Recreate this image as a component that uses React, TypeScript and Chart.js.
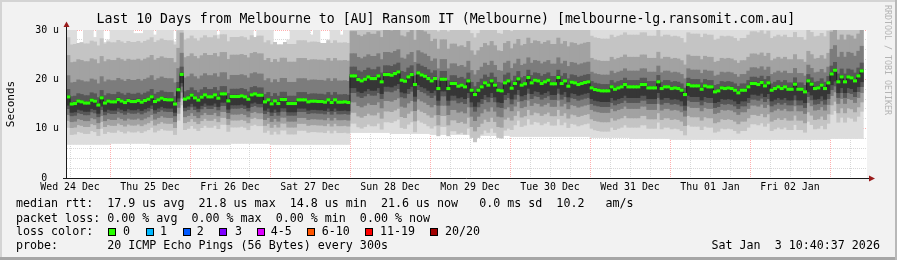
import React, { useEffect, useRef } from "react";
import { Chart, registerables } from "chart.js";

Chart.register(...registerables);

// ---- time axis (hours since Wed 24 Dec 00:00) ----
const AXIS_START_HOUR = 11.1;
const AXIS_END_HOUR = 251.1;
const FIRST_COLUMN_HOUR = 11;

const DAY_LABELS = [
  "Wed 24 Dec", "Thu 25 Dec", "Fri 26 Dec", "Sat 27 Dec", "Sun 28 Dec",
  "Mon 29 Dec", "Tue 30 Dec", "Wed 31 Dec", "Thu 01 Jan", "Fri 02 Jan",
];

const Y_GRID = [0, 2, 4, 6, 8, 10, 12, 14, 16, 18, 20, 22, 24, 26, 28, 30];
const Y_LABEL_VALUES = [0, 10, 20, 30];
const Y_LABELS = ["0  ", "10 u", "20 u", "30 u"];

// ---- hourly median rtt (us) ----
const MEDIAN_RTT = [
  16.45, 15.0, 15.1, 15.6, 15.44, 15.2, 15.2, 15.78, 15.58, 14.8,
  16.25, 15.2, 15.6, 15.44, 15.44, 15.9, 15.6, 15.3, 15.7, 15.5,
  15.5, 15.71, 15.38, 15.71, 15.98, 16.46, 15.51, 15.85, 16.19, 15.91,
  15.85, 15.85, 15.0, 17.9, 21.0, 16.0, 16.25, 16.8, 16.25, 15.8,
  16.4, 16.86, 16.46, 16.46, 16.86, 16.19, 17.06, 17.06, 15.64, 16.52,
  16.52, 16.52, 16.66, 16.46, 15.98, 16.86, 17.06, 16.79, 16.79, 15.44,
  15.85, 15.04, 15.64, 15.1, 15.91, 15.9, 15.1, 15.1, 15.1, 15.85,
  15.85, 15.85, 15.44, 15.58, 15.58, 15.51, 15.51, 15.38, 15.85, 15.31,
  15.85, 15.38, 15.38, 15.44, 15.31,
  20.7, 20.7, 19.96, 19.69, 20.03,
  20.5, 20.16, 20.16, 20.7, 19.5, 20.97, 20.97, 20.84, 21.17, 21.51,
  19.83, 19.63, 20.5, 20.97, 18.95, 21.31, 20.9, 20.64, 20.16, 19.69,
  20.16, 18.14, 20.03, 20.03, 18.14, 19.16, 19.16, 18.62, 18.83, 18.48,
  19.69, 17.8, 16.92, 17.8, 18.48, 19.29, 18.83, 19.69, 18.83, 17.8,
  17.67, 19.29, 19.69, 18.21, 19.16, 20.1, 18.83, 19.1, 20.37, 19.29,
  19.83, 19.69, 19.16, 19.5, 19.83, 19.1, 19.1, 20.37, 19.16, 19.69,
  18.62, 19.43, 19.29, 18.95, 19.16, 19.36, 19.5, 18.27, 17.94, 17.8,
  17.67, 17.67, 17.67, 18.48, 18.0, 18.27, 18.48, 18.95, 18.48, 18.48,
  18.48, 18.48,
  18.95, 18.95, 18.27, 18.27, 18.27, 19.5, 18.14, 18.48,
  18.48, 18.14, 18.27, 18.14, 17.8, 16.92, 18.95, 18.68, 18.68, 18.68,
  18.0, 18.68, 18.48, 18.48, 17.47, 17.67, 18.27, 18.14, 18.27, 18.14,
  17.8, 17.27, 17.8, 17.8, 18.48, 19.16, 19.16, 18.95, 19.36, 18.68,
  19.29, 17.8, 18.14, 18.48, 18.14, 18.48, 18.0, 18.0, 19.02, 18.0,
  18.0, 17.47, 19.69, 19.02, 18.14, 18.27, 18.83, 18.14, 19.29, 21.1,
  21.85, 19.5, 20.5, 19.5, 20.5, 20.3, 19.69, 20.7, 21.71,
];

// ---- smoke, per 12-hour block (21 blocks) ----
const SMOKE_LOW = [6.8, 6.8, 7.0, 6.8, 6.8, 7.0, 6.8, 6.8, 9.2, 9.0, 8.8, 8.6, 8.4, 8.4, 8.2, 8.0, 7.8, 7.8, 7.8, 7.8, 8.0];
const SMOKE_HIGH = [30.5, 30.5, 30.5, 30.5, 30.5, 30.5, 30.5, 30.5, 32, 32, 32, 32, 32, 32, 32, 32, 32, 32, 32, 32, 32];
// columns whose highest ping stays under the 30 u top (white notches), [column, value]
const TOP_NOTCHES = [
  [3, 27.3], [4, 27.5], [8, 28.5], [11, 27.5], [12, 28.0], [20, 29.3], [21, 29.3], [22, 29.3],
  [26, 29.0], [32, 27.6], [45, 29.0], [56, 28.5], [62, 27.5], [63, 27.0], [64, 27.0], [65, 27.5],
  [66, 28.0], [73, 29.0], [76, 27.3], [77, 27.3], [78, 28.0], [82, 29.0],
];
const BELOW_B = [6.2, 6.2, 6.2, 6.2, 6.2, 6.2, 6.2, 6.2, 9.6, 9.6, 9.6, 9.6, 8.4, 8.4, 8.2, 8.2, 8.2, 8.2, 8.2, 8.2, 8.2];
const ABOVE_B = [12, 12, 12, 12, 12, 12, 12, 12, 12, 12, 11.5, 11.5, 11.5, 11.5, 10.5, 10.5, 10.5, 10.5, 10.5, 10.5, 12];
const BELOW_C = [4.8, 4.8, 4.8, 4.8, 4.8, 4.8, 4.8, 4.8, 7.4, 7.4, 7.4, 7.4, 6.5, 6.5, 6.3, 6.3, 6.3, 6.3, 6.3, 6.3, 6.3];
const ABOVE_C = [8.4, 8.4, 8.4, 8.4, 8.4, 8.4, 8.4, 8.4, 9.0, 9.0, 8.0, 8.0, 8.0, 8.0, 6.0, 6.0, 6.0, 6.0, 6.0, 6.0, 8.5];
const BELOW_D = [3.6, 3.6, 3.6, 3.6, 3.6, 3.6, 3.6, 3.6, 5.3, 5.3, 5.3, 5.3, 4.6, 4.6, 4.4, 4.4, 4.4, 4.4, 4.4, 4.4, 4.4];
const ABOVE_D = [4.3, 4.3, 4.3, 4.3, 4.3, 4.3, 4.3, 4.3, 4.5, 4.5, 4.0, 4.0, 4.0, 4.0, 3.2, 3.2, 3.2, 3.2, 3.2, 3.2, 5.0];
const BELOW_E = [2.4, 2.4, 2.4, 2.4, 2.4, 2.4, 2.4, 2.4, 3.4, 3.4, 3.4, 3.4, 3.2, 3.2, 3.2, 3.2, 3.2, 3.2, 3.2, 3.2, 3.2];
const ABOVE_E = [1.5, 1.5, 1.5, 1.5, 1.5, 1.5, 1.5, 1.5, 1.8, 1.8, 1.6, 1.6, 1.5, 1.5, 1.3, 1.3, 1.3, 1.3, 1.3, 1.3, 1.6];
const BELOW_F = [1.7, 1.7, 1.7, 1.7, 1.7, 1.7, 1.7, 1.7, 2.4, 2.4, 2.4, 2.4, 2.2, 2.2, 2.2, 2.2, 2.2, 2.2, 2.2, 2.2, 2.2];
const ABOVE_F = [0.3, 0.3, 0.3, 0.3, 0.3, 0.3, 0.3, 0.3, 0.3, 0.3, 0.3, 0.3, 0.3, 0.3, 0.3, 0.3, 0.3, 0.3, 0.3, 0.3, 0.3];

const MEDIAN_HALF_HEIGHT = 0.25;

const TITLE = "Last 10 Days from Melbourne to [AU] Ransom IT (Melbourne) [melbourne-lg.ransomit.com.au]";
const LINE_RTT = "median rtt:  17.9 us avg  21.8 us max  14.8 us min  21.6 us now   0.0 ms sd  10.2   am/s";
const LINE_LOSS = "packet loss: 0.00 % avg  0.00 % max  0.00 % min  0.00 % now";
const LINE_LOSSCOLOR = "loss color:";
const LINE_PROBE = "probe:       20 ICMP Echo Pings (56 Bytes) every 300s";
const DATE_TEXT = "Sat Jan  3 10:40:37 2026";
const LOSS_LABELS = ["0", "1", "2", "3", "4-5", "6-10", "11-19", "20/20"];
const LOSS_COLORS = ["#26ff00", "#00b8ff", "#0059ff", "#7e00ff", "#dd00ff", "#ff5500", "#ff0000", "#a10000"];
const LOSS_BOX_X = [108, 145.7, 182.7, 219.3, 256.7, 307.3, 365.3, 430];
const LOSS_LABEL_X = [123, 160, 196.7, 235, 270.7, 321.7, 380, 445];

const MONO = '"DejaVu Sans Mono", monospace';
const GRID_MINOR = "rgba(200,200,200,0.7)";
const GRID_MAJOR = "rgba(255,120,120,0.6)";

function Txt(props: { x: number; base: number; size: number; text: string; color?: string }) {
  const { x, base, size, text, color } = props;
  return (
    <div
      style={{
        position: "absolute",
        left: x,
        top: base - 0.928 * size,
        fontFamily: MONO,
        fontSize: size,
        lineHeight: `${1.164 * size}px`,
        whiteSpace: "pre",
        color: color || "#000",
      }}
    >
      {text}
    </div>
  );
}

export default function App() {
  const ref = useRef<HTMLCanvasElement>(null);

  useEffect(() => {
    const canvas = ref.current;
    if (!canvas) return;
    const colX = (i: number) => FIRST_COLUMN_HOUR + 0.5 + i;
    const blockOf = (i: number) => Math.floor((FIRST_COLUMN_HOUR + i) / 12);
    const notch = new Map<number, number>(TOP_NOTCHES.map((p) => [p[0], p[1]] as [number, number]));
    const topOf = (i: number) => (notch.has(i) ? (notch.get(i) as number) : SMOKE_HIGH[blockOf(i)]);
    const band = (below: number[], above: number[]) =>
      MEDIAN_RTT.map((m, i) => ({
        x: colX(i),
        y: [m - below[blockOf(i)], Math.min(m + above[blockOf(i)], topOf(i))],
      }));
    const bar = (label: string, color: string, data: any[]) => ({
      type: "bar" as const,
      label,
      data,
      backgroundColor: color,
      borderWidth: 0,
      grouped: false,
      barPercentage: 1,
      categoryPercentage: 1,
    });

    const outer = MEDIAN_RTT.map((_m, i) => ({ x: colX(i), y: [SMOKE_LOW[blockOf(i)], topOf(i)] }));
    const green = MEDIAN_RTT.map((m, i) => ({ x: colX(i), y: [m - MEDIAN_HALF_HEIGHT, m + MEDIAN_HALF_HEIGHT] }));
    const medianLine = MEDIAN_RTT.map((m, i) => ({ x: colX(i), y: m }));

    const xTicks: number[] = [];
    for (let h = 12; h < AXIS_END_HOUR; h += 6) xTicks.push(h);

    const decor = {
      id: "decor",
      beforeDraw(chart: any) {
        const { ctx, chartArea: a } = chart;
        ctx.save();
        ctx.fillStyle = "#ffffff";
        ctx.fillRect(a.left, a.top, a.right - a.left, a.bottom - a.top);
        ctx.restore();
      },
      afterDraw(chart: any) {
        const { ctx, chartArea: a } = chart;
        ctx.save();
        ctx.strokeStyle = "#1a1a1a";
        ctx.lineWidth = 1;
        ctx.beginPath();
        ctx.moveTo(a.left - 4, a.bottom + 0.5);
        ctx.lineTo(a.right + 3, a.bottom + 0.5);
        ctx.moveTo(a.left - 0.5, a.bottom + 1);
        ctx.lineTo(a.left - 0.5, a.top - 5);
        ctx.stroke();
        ctx.fillStyle = "#9a1c1c";
        ctx.beginPath();
        ctx.moveTo(a.left - 0.5, a.top - 8.5);
        ctx.lineTo(a.left - 3.5, a.top - 3);
        ctx.lineTo(a.left + 2.5, a.top - 3);
        ctx.closePath();
        ctx.fill();
        ctx.beginPath();
        ctx.moveTo(a.right + 8, a.bottom + 0.5);
        ctx.lineTo(a.right + 2, a.bottom - 2.5);
        ctx.lineTo(a.right + 2, a.bottom + 3.5);
        ctx.closePath();
        ctx.fill();
        ctx.restore();
      },
    };

    const chart = new Chart(canvas, {
      type: "bar",
      data: {
        datasets: [
          bar("median", "#26ff00", green),
          {
            type: "line" as const,
            label: "median line",
            data: medianLine,
            borderColor: "#202020",
            borderWidth: 1,
            pointRadius: 0,
            stepped: "middle",
            fill: false,
          } as any,
          bar("F", "#363636", band(BELOW_F, ABOVE_F)),
          bar("E", "#575757", band(BELOW_E, ABOVE_E)),
          bar("D", "#7c7c7c", band(BELOW_D, ABOVE_D)),
          bar("C", "#a2a2a2", band(BELOW_C, ABOVE_C)),
          bar("B", "#c4c4c4", band(BELOW_B, ABOVE_B)),
          bar("A", "#dddddd", outer),
        ] as any,
      },
      options: {
        responsive: false,
        animation: false,
        devicePixelRatio: 1,
        layout: { padding: { left: 0, right: 30, top: 30, bottom: 0 } },
        plugins: { legend: { display: false }, tooltip: { enabled: false } },
        events: [],
        scales: {
          x: {
            type: "linear",
            min: AXIS_START_HOUR,
            max: AXIS_END_HOUR,
            offset: false,
            z: 1,
            afterFit: (s: any) => { s.height = 82; },
            afterBuildTicks: (s: any) => { s.ticks = xTicks.map((v) => ({ value: v })); },
            grid: {
              offset: false,
              drawTicks: false,
              lineWidth: 1,
              color: (c: any) => (c.tick && c.tick.value % 24 === 0 ? GRID_MAJOR : GRID_MINOR),
            },
            border: { display: false, dash: [1, 1] },
            ticks: {
              autoSkip: false,
              maxRotation: 0,
              minRotation: 0,
              padding: 3,
              color: "#000",
              font: { family: MONO, size: 9.9 },
              callback: (v: any) => {
                const n = Number(v);
                const k = (n - 12) / 24;
                return Number.isInteger(k) && k >= 0 && k < DAY_LABELS.length ? DAY_LABELS[k] : "";
              },
            },
          },
          y: {
            type: "linear",
            min: 0,
            max: 30,
            z: 1,
            afterFit: (s: any) => { s.width = 67; },
            afterBuildTicks: (s: any) => { s.ticks = Y_GRID.map((v) => ({ value: v })); },
            grid: {
              drawTicks: false,
              lineWidth: 1,
              color: (c: any) => {
                const v = c.tick ? c.tick.value : -1;
                if (v === 0) return "rgba(0,0,0,0)";
                return v % 10 === 0 ? GRID_MAJOR : GRID_MINOR;
              },
            },
            border: { display: false, dash: [1, 1] },
            ticks: {
              autoSkip: false,
              padding: 8,
              color: "#000",
              font: { family: MONO, size: 9.9 },
              callback: (v: any) => {
                const idx = Y_LABEL_VALUES.indexOf(Number(v));
                return idx >= 0 ? Y_LABELS[idx] : "";
              },
            },
            title: {
              display: true,
              text: "Seconds",
              color: "#000",
              font: { family: MONO, size: 11 },
              padding: { top: 4.6, bottom: 0 },
            },
          },
        },
      } as any,
      plugins: [decor],
    });
    return () => chart.destroy();
  }, []);

  return (
    <div
      style={{
        position: "absolute",
        left: 0,
        top: 0,
        width: 897,
        height: 260,
        background: "#f2f2f2",
        overflow: "hidden",
      }}
    >
      <canvas ref={ref} width={897} height={260} style={{ position: "absolute", left: 0, top: 0, width: 897, height: 260 }} />
      <Txt x={96.5} base={23.6} size={13.2} text={TITLE} />
      <Txt x={16} base={208.3} size={11.67} text={LINE_RTT} />
      <Txt x={16} base={222.4} size={11.67} text={LINE_LOSS} />
      <Txt x={16} base={236.2} size={11.67} text={LINE_LOSSCOLOR} />
      <Txt x={16} base={250.1} size={11.67} text={LINE_PROBE} />
      <Txt x={711.5} base={250.1} size={11.67} text={DATE_TEXT} />
      {LOSS_LABELS.map((lab, i) => (
        <React.Fragment key={lab}>
          <div
            style={{
              position: "absolute",
              left: Math.round(LOSS_BOX_X[i]),
              top: 228,
              width: 8,
              height: 8,
              boxSizing: "border-box",
              border: "1px solid #000",
              background: LOSS_COLORS[i],
            }}
          />
          <Txt x={LOSS_LABEL_X[i]} base={236.2} size={11.67} text={lab} />
        </React.Fragment>
      ))}
      <div
        style={{
          position: "absolute",
          left: 883,
          top: 5,
          fontFamily: MONO,
          fontSize: 8.3,
          lineHeight: "9px",
          color: "#b4b4b4",
          writingMode: "vertical-rl",
          whiteSpace: "pre",
        }}
      >
        RRDTOOL / TOBI OETIKER
      </div>
      <div style={{ position: "absolute", left: 0, top: 0, width: 897, height: 2, background: "#d4d4d4" }} />
      <div style={{ position: "absolute", left: 0, top: 0, width: 2, height: 260, background: "#d4d4d4" }} />
      <div style={{ position: "absolute", left: 0, top: 257, width: 897, height: 3, background: "#a6a6a6" }} />
      <div style={{ position: "absolute", left: 895, top: 0, width: 2, height: 260, background: "#b8b8b8" }} />
    </div>
  );
}
